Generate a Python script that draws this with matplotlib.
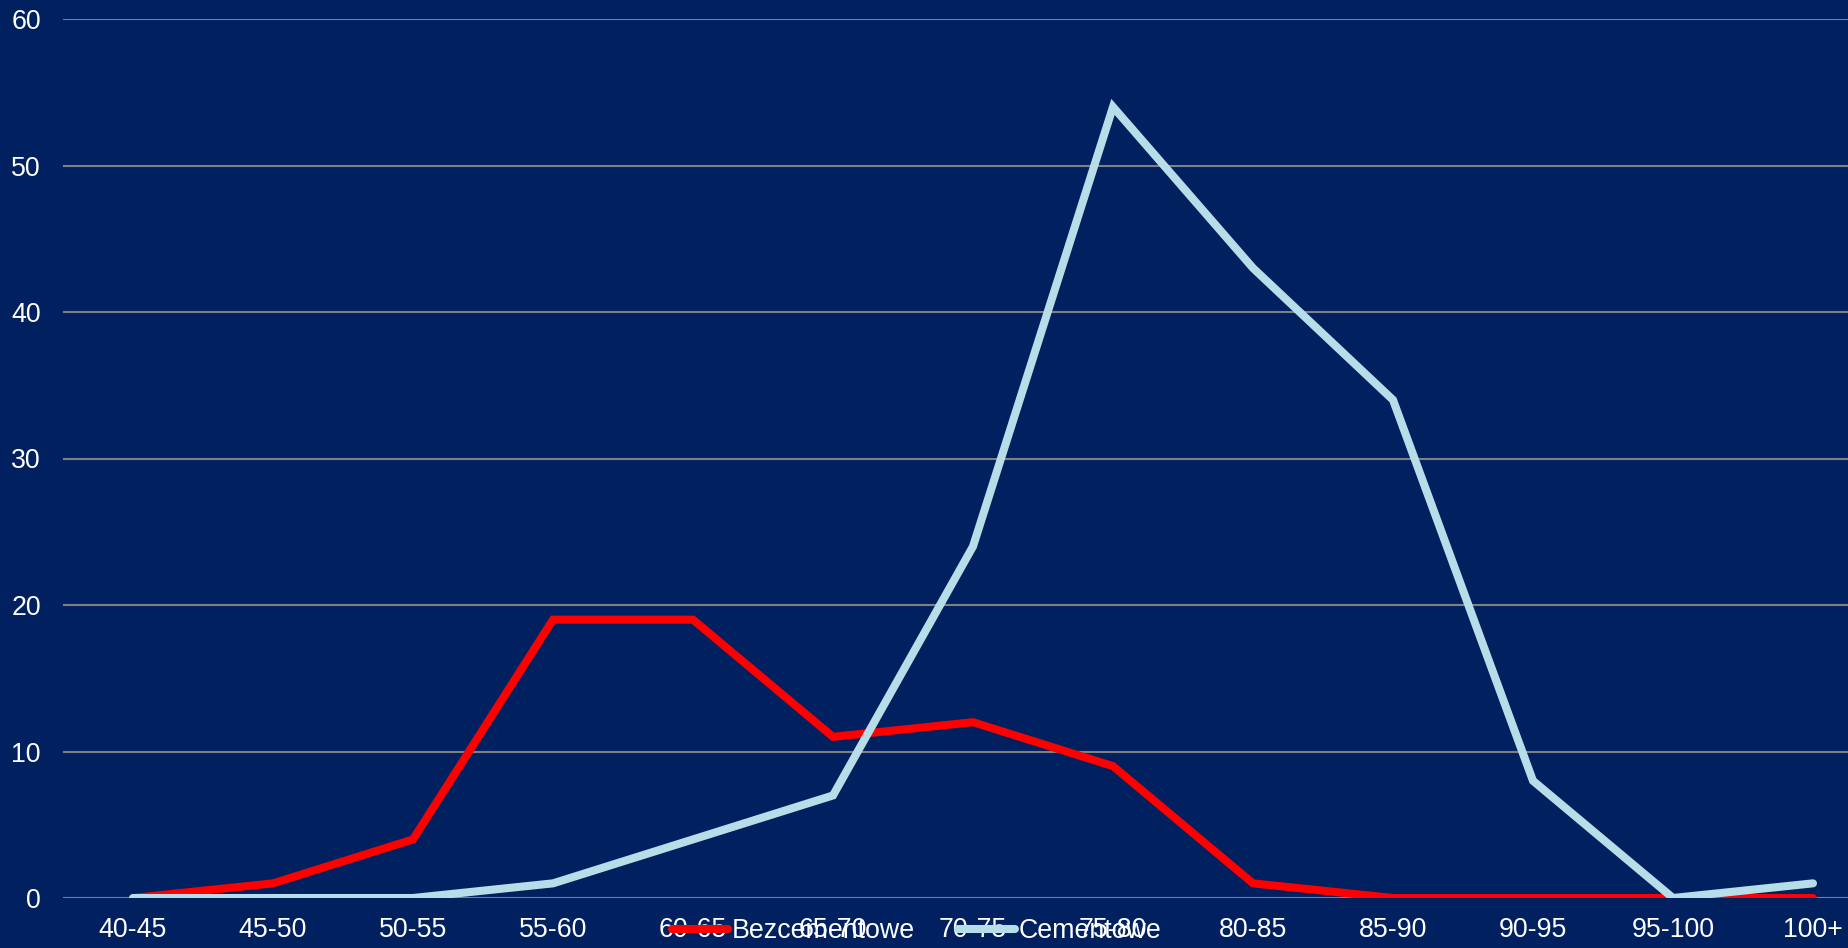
import numpy as np
import matplotlib.pyplot as plt

# dane
przedzialy = ['40-45', '45-50', '50-55', '55-60', '60-65', '65-70', '70-75',
              '75-80', '80-85', '85-90', '90-95', '95-100', '100+']
bezcementowe = [0, 1, 4, 19, 19, 11, 12, 9, 1, 0, 0, 0, 0]
cementowe = [0, 0, 0, 1, 4, 7, 24, 54, 43, 34, 8, 0, 1]

tlo = '#002060'
plt.rcParams['font.family'] = ['Liberation Sans', 'DejaVu Sans']

fig = plt.figure(figsize=(18.48, 9.48), dpi=100, facecolor=tlo)
ax = fig.add_axes([63/1848, 50/948, (1848-63)/1848, (898-19)/948])
ax.set_facecolor(tlo)

x = np.arange(len(przedzialy))
ax.plot(x, bezcementowe, color='#FF0000', lw=5.8, solid_capstyle='round',
        solid_joinstyle='miter', label='Bezcementowe', zorder=3)
ax.plot(x, cementowe, color='#B7DEE8', lw=5.8, solid_capstyle='round',
        solid_joinstyle='miter', label='Cementowe', zorder=3)

ax.set_xlim(-0.5, 12.25)
ax.set_ylim(0, 60)
ax.set_yticks(range(0, 61, 10))
ax.set_xticks(x)
ax.set_xticklabels(przedzialy)
ax.grid(axis='y', color='#808080', lw=1.5)
ax.set_axisbelow(True)
for s in ax.spines.values():
    s.set_visible(False)
ax.tick_params(colors='white', labelsize=19.3, length=0)
ax.tick_params(axis='y', pad=16)
ax.tick_params(axis='x', pad=14)

fig.legend(loc='center', bbox_to_anchor=(0.496, 17/948), ncol=2,
           frameon=False, fontsize=19.3, labelcolor='white', handlelength=2.1,
           columnspacing=1.6, handletextpad=0.15)

fig.savefig('out.png', facecolor=tlo)
